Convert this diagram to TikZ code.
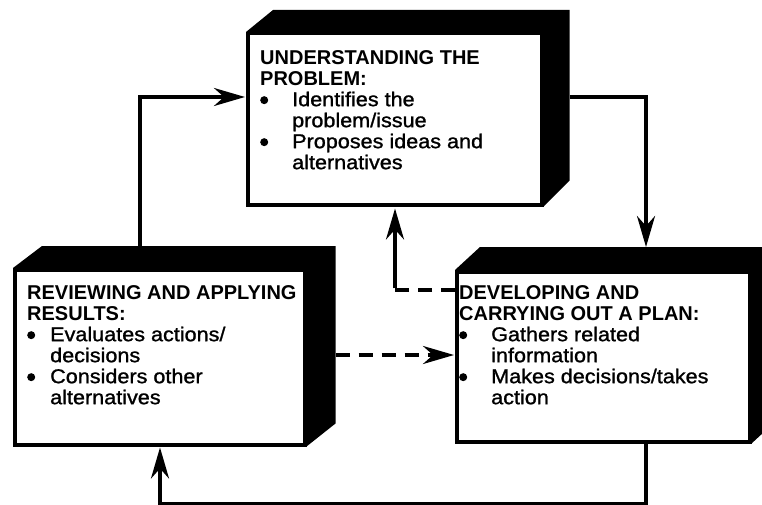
\documentclass[tikz,border=0pt]{standalone}
\usepackage{fontspec}
\setmainfont{Liberation Sans}
\newfontfamily\bodyf{Liberation Sans}[FakeBold=1.2, FakeStretch=1.08]
\usetikzlibrary{arrows.meta,calc}
\newcommand\bul[1]{\makebox[#1][l]{\raisebox{2pt}{\tikz\fill (0,0) circle[radius=4pt];}}}
\newcommand\hd[1]{\textbf{#1}}
\begin{document}
\begin{tikzpicture}[x=1pt,y=-1pt,
  tip/.style={-{Stealth[length=31pt,width=18pt,inset=10pt]}},
  arr/.style={tip, line width=3.5pt},
  dsh/.style={line width=3.5pt, dash pattern=on 14pt off 9pt},
  face/.style={draw, fill=white, line width=3.5pt, inner sep=0pt, anchor=north west},
  txt/.style={anchor=north west, inner sep=0pt, align=left, font=\fontsize{20}{21}\selectfont}]
\useasboundingbox (0,0) rectangle (762,505);
\clip (0,0) rectangle (762,505);
% top box
\node[face, minimum width=294pt, minimum height=171pt] (t) at (246,32) {};
\fill (t.north west) -- ++(27,-22) -- ($(t.north east)+(26,-22)$) -- ($(t.south east)+(26,-26)$) -- (t.south east) -- (t.north east) -- cycle;
% left box
\node[face, minimum width=290pt, minimum height=175pt] (l) at (13,268) {};
\fill (l.north west) -- ++(29,-22) -- ($(l.north east)+(29,-22)$) -- ($(l.south east)+(29,-23)$) -- (l.south east) -- (l.north east) -- cycle;
% right box
\node[face, minimum width=293pt, minimum height=170pt] (r) at (455,270) {};
\fill (r.north west) -- ++(25,-23) -- ($(r.north east)+(25,-23)$) -- ($(r.south east)+(25,-23)$) -- (r.south east) -- (r.north east) -- cycle;
% texts
\node[txt] (tt) at (260,50) {\hd{UNDERSTANDING THE}\\\hd{PROBLEM:}\\
\bul{32pt}{\bodyf Identifies the}\\\hspace*{32pt}{\bodyf problem/issue}\\
\bul{32pt}{\bodyf Proposes ideas and}\\\hspace*{32pt}{\bodyf alternatives}};
\node[txt] (lt) at (27,285) {\hd{REVIEWING AND APPLYING}\\\hd{RESULTS:}\\
\bul{23pt}{\bodyf Evaluates actions/}\\\hspace*{23pt}{\bodyf decisions}\\
\bul{23pt}{\bodyf Considers other}\\\hspace*{23pt}{\bodyf alternatives}};
\node[txt] (rt) at (459,285) {\hd{DEVELOPING AND}\\\hd{CARRYING OUT A PLAN:}\\
\bul{32pt}{\bodyf Gathers related}\\\hspace*{32pt}{\bodyf information}\\
\bul{32pt}{\bodyf Makes decisions/takes}\\\hspace*{32pt}{\bodyf action}};
% connector end points
\coordinate (lTop) at ($(l.north west)+(127,-22)$);
\coordinate (tIn) at ($(t.north west)+(-1,65)$);
\coordinate (tOut) at ($(t.north east)+(26,65)$);
\coordinate (rTop) at ($(r.north west)+(191,-23)$);
\coordinate (rBot) at ($(r.south west)+(191,0)$);
\coordinate (lBot) at ($(l.south west)+(147,1)$);
\coordinate (lSide) at ($(l.north east)+(29,87)$);
\coordinate (rSide) at ($(r.north west)+(-1,85)$);
\coordinate (rUp) at ($(r.north west)+(0,20)$);
\coordinate (bend) at (395,290);
\coordinate (tBot) at (t.south -| bend);
% connectors
\draw[arr] (lTop) |- (tIn);
\draw[arr] (tOut) -| (rTop);
\draw[arr] (rBot) -- ++(0,60) -| (lBot);
\draw[dsh, tip] (lSide) -- (rSide);
\draw[dsh] (rUp) -- (bend);
\draw[arr] ([yshift=1.75pt]bend) -- ([yshift=-2pt]tBot);
\end{tikzpicture}
\end{document}
